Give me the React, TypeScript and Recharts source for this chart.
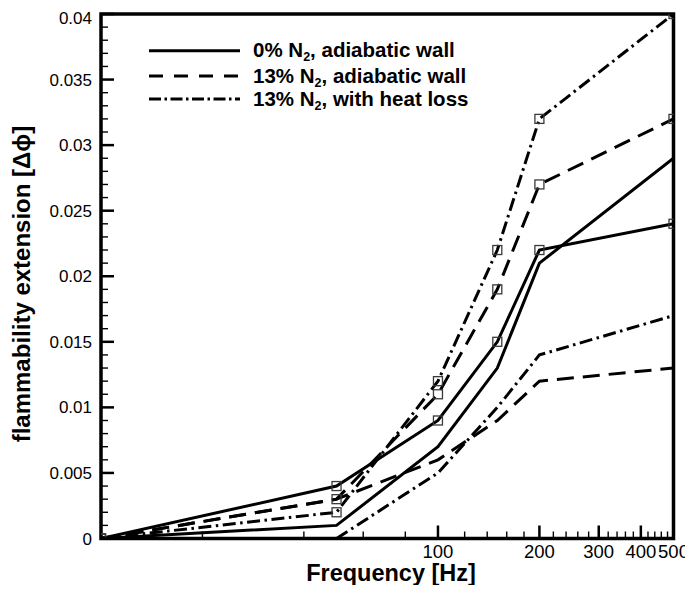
import React from 'react';
import { LineChart, Line, XAxis, YAxis, ReferenceArea, Legend } from 'recharts';

// ---------- data ----------
const frequencies = [10, 50, 100, 150, 200, 500];
const solidUpper = [0, 0.004, 0.009, 0.015, 0.022, 0.024];
const solidLower = [0, 0.001, 0.007, 0.013, 0.021, 0.029];
const dashedUpper = [0, 0.003, 0.011, 0.019, 0.027, 0.032];
const dashedLower = [0, 0.003, 0.006, 0.009, 0.012, 0.013];
const dashDotUpper = [0, 0.002, 0.012, 0.022, 0.032, 0.04];
const dashDotLower: (number | null)[] = [null, 0, 0.005, 0.01, 0.014, 0.017];

const xTicks = [20, 40, 60, 80, 100, 120, 140, 160, 180, 200, 220, 240, 260, 280, 300, 320, 340, 360, 380, 400, 420, 440, 460, 480, 500];
const xLabelTicks = [100, 200, 300, 400, 500];
const yMajorTicks = [0, 0.005, 0.01, 0.015, 0.02, 0.025, 0.03, 0.035, 0.04];
const yTickLabels = ['0', '0.005', '0.01', '0.015', '0.02', '0.025', '0.03', '0.035', '0.04'];
const yTicks = Array.from({ length: 41 }, (_, i) => i / 1000);

const legendLabels = [
  { pre: '0% N', sub: '2', post: ', adiabatic wall', dash: undefined as string | undefined },
  { pre: '13% N', sub: '2', post: ', adiabatic wall', dash: '14 11' },
  { pre: '13% N', sub: '2', post: ', with heat loss', dash: '12 3.5 2.5 3.5' },
];

const xTitle = 'Frequency [Hz]';
const yTitle = 'flammability extension [\u0394\u03d5]';

// ---------- layout ----------
const W = 685;
const H = 577;
const FONT = '"Liberation Sans", Arial, Helvetica, sans-serif';
const DASHED = '17 9';
const DASHDOT = '13 4.5 2.5 4.5';

const toRows = (vals: (number | null)[]) =>
  frequencies
    .map((f, i) => ({ f, v: vals[i] }))
    .filter((r) => r.v !== null);

const SquareDot = (props: any) => {
  const { cx, cy } = props;
  if (cx == null || cy == null) return null;
  return (
    <rect x={cx - 4.5} y={cy - 4.5} width={9} height={9} fill="none" stroke="#3a3a3a" strokeWidth={1.3} />
  );
};

const XTick = (props: any) => {
  const { x, y, payload } = props;
  const v = payload.value;
  const major = xLabelTicks.includes(v);
  return (
    <g>
      <line x1={x} x2={x} y1={y} y2={y - (major ? 13 : 7)} stroke="#000" strokeWidth={major ? 2.5 : 1.4} />
      {major && (
        <text x={x} y={y + 19.5} textAnchor="middle" fontSize={18.5} fontFamily={FONT} fill="#000">
          {v}
        </text>
      )}
    </g>
  );
};

const YTick = (props: any) => {
  const { x, y, payload } = props;
  const v = payload.value;
  const idx = yMajorTicks.findIndex((m) => Math.abs(m - v) < 1e-9);
  const major = idx >= 0;
  const isTop = idx === yMajorTicks.length - 1;
  return (
    <g>
      <line x1={x} x2={x + (major ? 13 : 7)} y1={y} y2={y} stroke="#000" strokeWidth={major ? 2.5 : 1.4} />
      {major && (
        <text x={x - 9} y={y + (isTop ? 10 : 6)} textAnchor="end" fontSize={17} fontFamily={FONT} fill="#000">
          {yTickLabels[idx]}
        </text>
      )}
    </g>
  );
};

const LegendBox = () => {
  const rows = [42.7, 68, 91];
  return (
    <svg width={W} height={H} style={{ overflow: 'visible', pointerEvents: 'none' }}>
      {legendLabels.map((l, i) => (
        <g key={i}>
          <line x1={141} x2={232} y1={rows[i]} y2={rows[i]} stroke="#000" strokeWidth={3} strokeDasharray={l.dash} />
          <text x={245} y={rows[i] + 6.5} fontSize={20.5} fontWeight="bold" fontFamily={FONT} fill="#000">
            <tspan>{l.pre}</tspan>
            <tspan fontSize={12.5} dy={4}>{l.sub}</tspan>
            <tspan dy={-4}>{l.post}</tspan>
          </text>
        </g>
      ))}
      <text x={383} y={573} textAnchor="middle" fontSize={23.5} fontWeight="bold" fontFamily={FONT} fill="#000">
        {xTitle}
      </text>
      <text
        x={22}
        y={276}
        textAnchor="middle"
        fontSize={24}
        fontWeight="bold"
        fontFamily={FONT}
        fill="#000"
        transform="rotate(-90 22 276)"
      >
        {yTitle}
      </text>
    </svg>
  );
};

export default function App() {
  return (
    <div style={{ width: W, height: H, background: '#fff' }}>
      <LineChart width={W} height={H} margin={{ top: 6, right: 19.5, bottom: 0, left: 13 }} style={{ overflow: 'visible' }}>
        <XAxis
          dataKey="f"
          type="number"
          scale="log"
          domain={[10, 500]}
          allowDataOverflow
          ticks={xTicks}
          interval={0}
          tick={<XTick />}
          tickLine={false}
          tickSize={0}
          tickMargin={0}
          axisLine={false}
          height={46.5}
        />
        <YAxis
          type="number"
          domain={[0, 0.04]}
          allowDataOverflow
          ticks={yTicks}
          interval={0}
          tick={<YTick />}
          tickLine={false}
          tickSize={0}
          tickMargin={0}
          axisLine={false}
          width={80}
        />
        <ReferenceArea x1={10} x2={500} y1={0} y2={0.04} fill="none" stroke="#000" strokeWidth={3.5} />
        <Line data={toRows(solidUpper)} dataKey="v" type="linear" stroke="#000" strokeWidth={3} dot={<SquareDot />} activeDot={false} isAnimationActive={false} />
        <Line data={toRows(solidLower)} dataKey="v" type="linear" stroke="#000" strokeWidth={3} dot={false} activeDot={false} isAnimationActive={false} />
        <Line data={toRows(dashedUpper)} dataKey="v" type="linear" stroke="#000" strokeWidth={3} strokeDasharray={DASHED} dot={<SquareDot />} activeDot={false} isAnimationActive={false} />
        <Line data={toRows(dashedLower)} dataKey="v" type="linear" stroke="#000" strokeWidth={3} strokeDasharray={DASHED} dot={false} activeDot={false} isAnimationActive={false} />
        <Line data={toRows(dashDotUpper)} dataKey="v" type="linear" stroke="#000" strokeWidth={3} strokeDasharray={DASHDOT} dot={<SquareDot />} activeDot={false} isAnimationActive={false} />
        <Line data={toRows(dashDotLower)} dataKey="v" type="linear" stroke="#000" strokeWidth={3} strokeDasharray={DASHDOT} dot={false} activeDot={false} isAnimationActive={false} />
        <Legend
          layout="horizontal"
          verticalAlign="middle"
          align="center"
          content={() => <LegendBox />}
          wrapperStyle={{ position: 'absolute', left: 0, top: 0, width: W, height: H, pointerEvents: 'none' }}
        />
      </LineChart>
    </div>
  );
}
